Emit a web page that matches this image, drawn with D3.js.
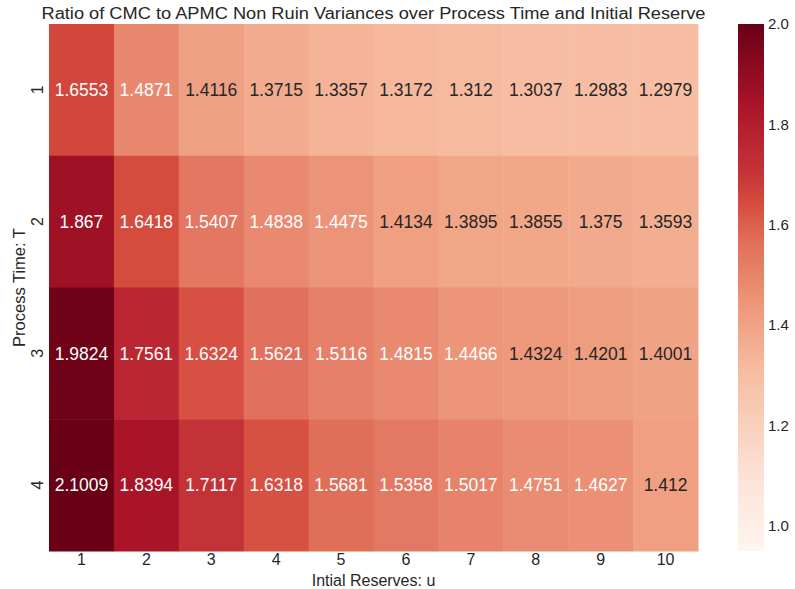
<!DOCTYPE html>
<html>
<head>
<meta charset="utf-8">
<script src="https://cdn.jsdelivr.net/npm/d3@7"></script>
<style>
  body { margin: 0; background: #fff; }
  svg text { font-family: "Liberation Sans", Arial, sans-serif; fill: #262626; }
</style>
</head>
<body>
<div id="heat"></div>
<script>
// Process times (rows) and initial reserves (columns)
const processTimes = ["1", "2", "3", "4"];
const initialReserves = ["1", "2", "3", "4", "5", "6", "7", "8", "9", "10"];

// Ratio values, one array per process time
const ratioT1 = [1.6553, 1.4871, 1.4116, 1.3715, 1.3357, 1.3172, 1.312, 1.3037, 1.2983, 1.2979];
const ratioT2 = [1.867, 1.6418, 1.5407, 1.4838, 1.4475, 1.4134, 1.3895, 1.3855, 1.375, 1.3593];
const ratioT3 = [1.9824, 1.7561, 1.6324, 1.5621, 1.5116, 1.4815, 1.4466, 1.4324, 1.4201, 1.4001];
const ratioT4 = [2.1009, 1.8394, 1.7117, 1.6318, 1.5681, 1.5358, 1.5017, 1.4751, 1.4627, 1.412];

const colorbarTicks = [1.0, 1.2, 1.4, 1.6, 1.8, 2.0];

var rows = [ratioT1, ratioT2, ratioT3, ratioT4];
var cells = [];
rows.forEach((vals, i) => {
    vals.forEach((v, j) => {
        cells.push({ t: processTimes[i], u: initialReserves[j], value: v });
    });
});

var width = 795;
var height = 589;
var margin = { top: 24, right: 97, bottom: 38, left: 49 };
var vmin = 0.95, vmax = 2.0;

var svg = d3.select("#heat")
    .append("svg")
    .attr("width", width)
    .attr("height", height);

var x = d3.scaleBand()
    .domain(initialReserves)
    .range([margin.left, width - margin.right]);

var y = d3.scaleBand()
    .domain(processTimes)
    .range([margin.top, height - margin.bottom]);

// washed out "Reds" as it looks in the picture
var color = d3.scaleLinear()
    .domain([0.95, 1.1, 1.2, 1.3, 1.41, 1.49, 1.57, 1.65, 1.71, 1.84, 2.0])
    .range(["#fff5f0", "#fbe2d6", "#f9d0bc", "#f7bea3", "#f0a082", "#e8876e", "#e06e5a", "#d4483c", "#c33237", "#aa1428", "#690016"])
    .interpolate(d3.interpolateRgb)
    .clamp(true);

// cells
svg.selectAll("rect.cell")
    .data(cells)
    .enter()
    .append("rect")
    .attr("class", "cell")
    .attr("x", d => x(d.u))
    .attr("y", d => y(d.t))
    .attr("width", x.bandwidth() + 0.5)
    .attr("height", y.bandwidth() + 0.5)
    .attr("fill", d => color(d.value));

// annotations: light text on dark cells, like seaborn
var textThreshold = 1.44;
svg.selectAll("text.annot")
    .data(cells)
    .enter()
    .append("text")
    .attr("class", "annot")
    .attr("x", d => x(d.u) + x.bandwidth() / 2)
    .attr("y", d => y(d.t) + y.bandwidth() / 2)
    .attr("text-anchor", "middle")
    .attr("dy", "0.36em")
    .style("font-size", "17.5px")
    .style("fill", d => d.value > textThreshold ? "#ffffff" : "#262626")
    .text(d => d.value);

// x axis (no tick lines)
var xAxis = svg.append("g")
    .attr("transform", "translate(0," + (height - margin.bottom) + ")")
    .call(d3.axisBottom(x).tickSize(0).tickPadding(3));
xAxis.select(".domain").remove();
xAxis.selectAll("text").style("font-size", "16px").style("fill", "#262626");

// y axis, rotated labels
var yAxis = svg.append("g")
    .attr("transform", "translate(" + margin.left + ",0)")
    .call(d3.axisLeft(y).tickSize(0));
yAxis.select(".domain").remove();
yAxis.selectAll("text")
    .style("font-size", "16px")
    .style("fill", "#262626")
    .attr("x", 0)
    .attr("dy", 0)
    .attr("text-anchor", "middle")
    .attr("transform", "translate(-6,0) rotate(-90)");

// titles
svg.append("text")
    .attr("x", (margin.left + width - margin.right) / 2)
    .attr("y", 19)
    .attr("text-anchor", "middle")
    .attr("textLength", 664)
    .attr("lengthAdjust", "spacingAndGlyphs")
    .style("font-size", "16px")
    .text("Ratio of CMC to APMC Non Ruin Variances over Process Time and Initial Reserve");

svg.append("text")
    .attr("x", (margin.left + width - margin.right) / 2)
    .attr("y", 586)
    .attr("text-anchor", "middle")
    .style("font-size", "16px")
    .text("Intial Reserves: u");

svg.append("text")
    .attr("transform", "translate(24.5," + ((margin.top + height - margin.bottom) / 2) + ") rotate(-90)")
    .attr("text-anchor", "middle")
    .style("font-size", "16.5px")
    .text("Process Time: T");

// colorbar
var cbX = 738, cbW = 26;
var cbScale = d3.scaleLinear().domain([vmin, vmax]).range([height - margin.bottom, margin.top]);

var defs = svg.append("defs");
var grad = defs.append("linearGradient")
    .attr("id", "cbGrad")
    .attr("x1", "0").attr("y1", "1")
    .attr("x2", "0").attr("y2", "0");
d3.range(0, 1.0001, 0.025).forEach(function (t) {
    grad.append("stop")
        .attr("offset", t)
        .attr("stop-color", color(vmin + t * (vmax - vmin)));
});

svg.append("rect")
    .attr("x", cbX)
    .attr("y", margin.top)
    .attr("width", cbW)
    .attr("height", height - margin.bottom - margin.top)
    .attr("fill", "url(#cbGrad)");

var cbAxis = svg.append("g")
    .attr("transform", "translate(" + (cbX + cbW) + ",0)")
    .call(d3.axisRight(cbScale).tickValues(colorbarTicks).tickFormat(d3.format(".1f")).tickSize(0).tickPadding(4));
cbAxis.select(".domain").remove();
cbAxis.selectAll("text").style("font-size", "15px").style("fill", "#262626");
</script>
</body>
</html>
